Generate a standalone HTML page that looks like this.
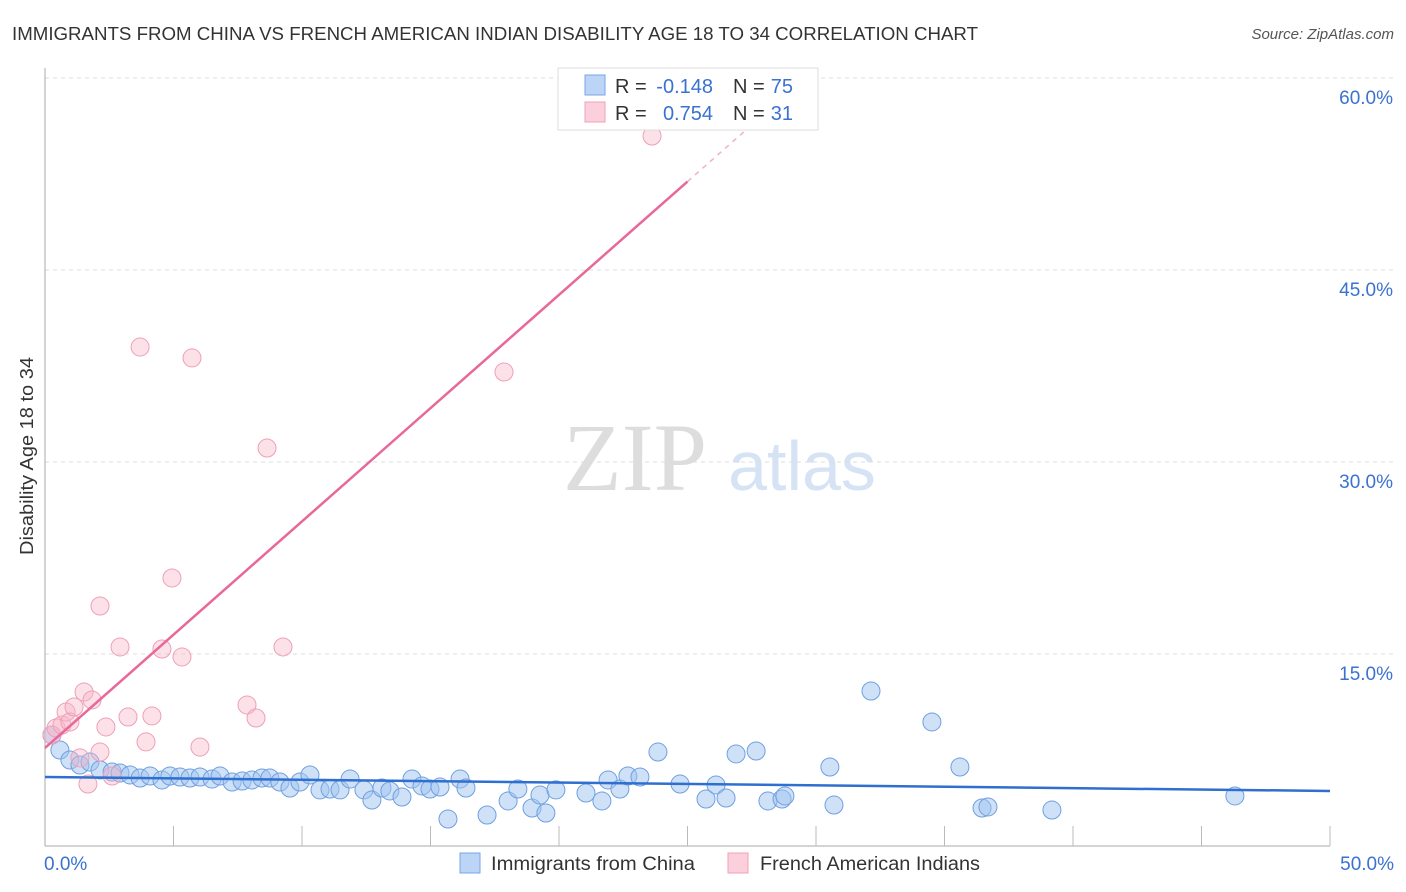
<!DOCTYPE html>
<html><head><meta charset="utf-8"><style>
body{margin:0;background:#fff;font-family:"Liberation Sans",sans-serif;}
#wrap{position:relative;width:1406px;height:892px;overflow:hidden;}
</style></head><body>
<div id="wrap">
<svg id="svg" width="1406" height="892" xmlns="http://www.w3.org/2000/svg">
<text x="12" y="40" font-size="18" fill="#333" textLength="966" lengthAdjust="spacingAndGlyphs">IMMIGRANTS FROM CHINA VS FRENCH AMERICAN INDIAN DISABILITY AGE 18 TO 34 CORRELATION CHART</text>
<text x="1394" y="39" font-size="15" fill="#555" font-style="italic" text-anchor="end">Source: ZipAtlas.com</text>
<text x="0" y="0" transform="translate(33,456) rotate(-90)" font-size="18" fill="#333" text-anchor="middle" textLength="198" lengthAdjust="spacingAndGlyphs">Disability Age 18 to 34</text>
<g><text x="635" y="490" font-family="Liberation Serif" font-size="96" fill="#ddd" text-anchor="middle">ZIP</text><text x="802" y="490" font-size="70" fill="#d6e3f5" text-anchor="middle">atlas</text></g>
<g id="grid"></g><g id="axes"></g><g id="pts"></g><g id="trend"></g>
<g>
<rect x="558" y="68" width="260" height="62" fill="#fff" stroke="#ddd"/>
<rect x="585" y="75" width="20" height="20" fill="#bcd4f5" stroke="#7aa6e6"/>
<text x="615" y="93" font-size="20" fill="#333">R =</text><text x="713" y="93" font-size="20" fill="#3a72d0" text-anchor="end">-0.148</text>
<text x="733" y="93" font-size="20" fill="#333">N =</text><text x="793" y="93" font-size="20" fill="#3a72d0" text-anchor="end">75</text>
<rect x="585" y="102" width="20" height="20" fill="#fbd0dc" stroke="#f0a0b8"/>
<text x="615" y="120" font-size="20" fill="#333">R =</text><text x="713" y="120" font-size="20" fill="#3a72d0" text-anchor="end">0.754</text>
<text x="733" y="120" font-size="20" fill="#333">N =</text><text x="793" y="120" font-size="20" fill="#3a72d0" text-anchor="end">31</text>
</g>
<g>
<rect x="460" y="853" width="20" height="20" fill="#bcd4f5" stroke="#7aa6e6"/>
<text x="491" y="870" font-size="19" fill="#333" textLength="204" lengthAdjust="spacingAndGlyphs">Immigrants from China</text>
<rect x="728" y="853" width="20" height="20" fill="#fbd0dc" stroke="#f0a0b8"/>
<text x="760" y="870" font-size="19" fill="#333" textLength="220" lengthAdjust="spacingAndGlyphs">French American Indians</text>
</g>
</svg></div>
<script>
const yTicks=[15,30,45,60];
const yTickLabels=["15.0%","30.0%","45.0%","60.0%"];
const xTickLabels=["0.0%","50.0%"];
const blueX=[0.27,0.58,0.97,1.36,1.75,2.14,2.61,2.92,3.31,3.70,4.09,4.55,4.86,5.25,5.64,6.03,6.50,6.81,7.28,7.67,8.05,8.44,8.75,9.14,9.53,9.92,10.31,10.70,11.09,11.48,11.87,12.41,12.72,13.11,13.42,13.89,14.28,14.67,14.98,15.37,15.68,16.15,16.38,17.20,18.02,18.40,18.95,19.26,19.49,19.88,21.05,21.67,21.91,22.37,22.68,23.15,23.85,24.71,25.72,26.11,26.50,26.89,27.67,28.13,28.68,28.79,30.54,30.70,32.14,34.51,35.60,36.46,36.69,39.18,46.30];
const blueY=[8.67,7.5,6.72,6.33,6.56,5.94,5.78,5.70,5.55,5.31,5.47,5.16,5.47,5.39,5.31,5.39,5.23,5.47,5.0,5.08,5.16,5.31,5.31,5.0,4.53,5.0,5.55,4.38,4.45,4.38,5.23,4.38,3.59,4.53,4.30,3.83,5.23,4.69,4.45,4.61,2.11,5.23,4.53,2.42,3.52,4.45,2.97,3.98,2.58,4.38,4.14,3.52,5.16,4.45,5.47,5.39,7.34,4.84,3.67,4.77,3.75,7.19,7.42,3.52,3.67,3.91,6.17,3.20,12.11,9.69,6.17,2.97,3.05,2.81,3.91];
const pinkX=[0.27,0.43,0.66,0.82,0.97,1.13,1.36,1.52,1.67,1.83,2.14,2.14,2.37,2.61,2.92,3.23,3.70,3.93,4.16,4.55,4.94,5.33,5.72,6.03,7.86,8.21,8.64,9.26,17.86,23.62];
const pinkY=[8.67,9.22,9.45,10.47,9.69,10.86,6.88,12.03,4.84,11.41,18.75,7.34,9.30,5.47,15.55,10.08,38.98,8.13,10.16,15.39,20.94,14.77,38.13,7.73,11.02,10.0,31.09,15.55,37.03,55.47];
const blueTrend=[5.39,4.30];
const pinkTrend=[7.66,1.77];
const X=v=>45+v*25.7, Y=v=>846-v*12.8;
const NS="http://www.w3.org/2000/svg";
function mk(tag,attrs,parent){const e=document.createElementNS(NS,tag);for(const k in attrs)e.setAttribute(k,attrs[k]);document.getElementById(parent).appendChild(e);return e;}
yTicks.forEach((t,i)=>{
 const g=mk('line',{x1:45,x2:1394,y1:Y(t),y2:Y(t),stroke:'#ddd','stroke-dasharray':'4,4'},'grid');
 
 
 const l=mk('text',{x:1393,y:Y(t)+26,'font-size':19,fill:'#3a72d0','text-anchor':'end'},'axes');l.textContent=yTickLabels[i];
 
 
});
let a=mk('line',{x1:45,x2:45,y1:68,y2:846,stroke:'#aaa'},'axes');


a=mk('line',{x1:45,x2:1330,y1:846,y2:846,stroke:'#aaa'},'axes');


for(let v=5;v<=50;v+=5){const t=mk('line',{x1:X(v),x2:X(v),y1:826,y2:846,stroke:'#bbb'},'axes');
 
 }
[[0,'start'],[50,'end']].forEach((p,i)=>{const t=mk('text',{x:X(p[0])+(i?64:-1),y:870,'font-size':19,fill:'#3a72d0','text-anchor':p[1]},'axes');t.textContent=xTickLabels[i];
 
 });
blueX.forEach((x,i)=>{const c=mk('circle',{cx:X(x),cy:Y(blueY[i]),r:9,fill:'rgba(160,196,240,0.5)',stroke:'#6fa0e0','stroke-width':1},'pts');
 
 });
pinkX.forEach((x,i)=>{const c=mk('circle',{cx:X(x),cy:Y(pinkY[i]),r:9,fill:'rgba(248,180,200,0.4)',stroke:'#eea0b8','stroke-width':1},'pts');
 
 });
let t=mk('line',{x1:X(0),y1:Y(blueTrend[0]),x2:X(50),y2:Y(blueTrend[1]),stroke:'#2f6fd0','stroke-width':2.5},'trend');


t=mk('line',{x1:X(0),y1:Y(pinkTrend[0]),x2:X(25),y2:Y(pinkTrend[0]+pinkTrend[1]*25),stroke:'#e8689a','stroke-width':2.5},'trend');


t=mk('line',{x1:X(25),y1:Y(pinkTrend[0]+pinkTrend[1]*25),x2:X(28),y2:Y(pinkTrend[0]+pinkTrend[1]*28),stroke:'#f0b0c8','stroke-width':1.5,'stroke-dasharray':'5,5'},'trend');


</script>
</body></html>
